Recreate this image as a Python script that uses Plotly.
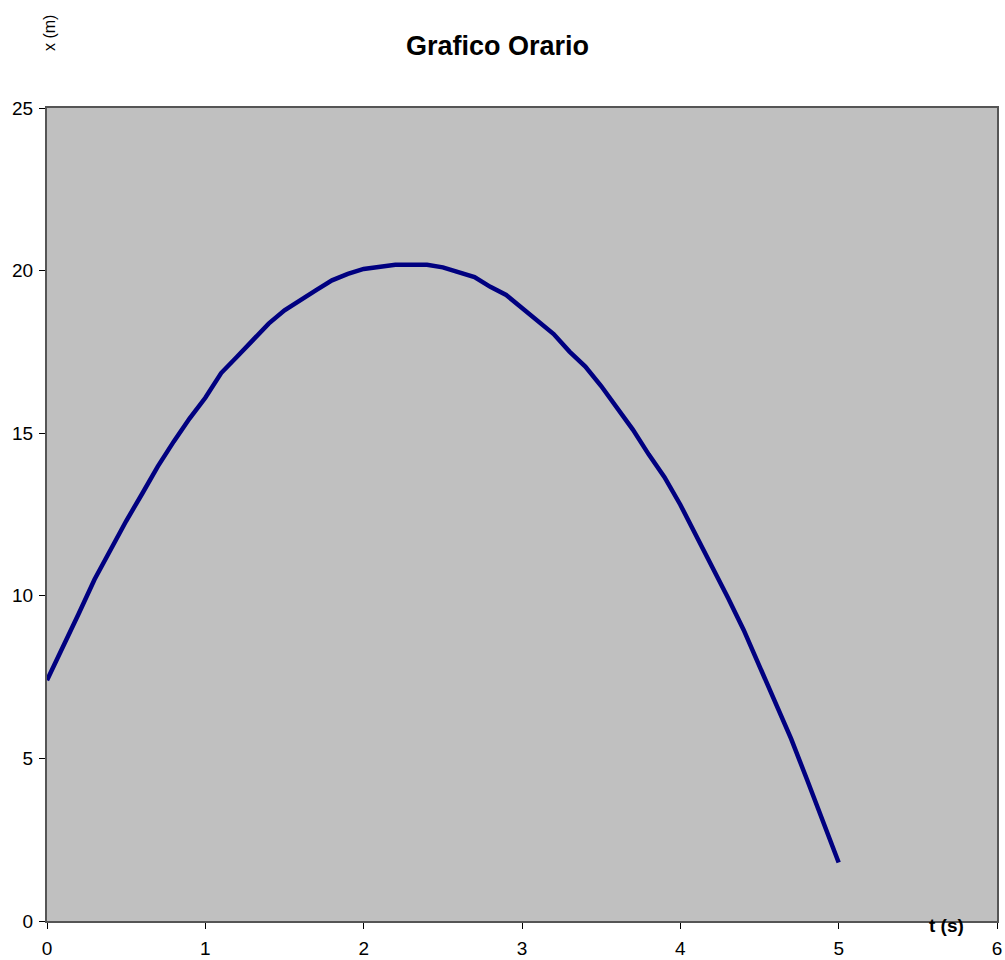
import plotly.graph_objects as go

t_values = [0.0, 0.1, 0.2, 0.3, 0.4, 0.5, 0.6, 0.7, 0.8, 0.9,
            1.0, 1.1, 1.2, 1.3, 1.4, 1.5, 1.6, 1.7, 1.8, 1.9,
            2.0, 2.1, 2.2, 2.3, 2.4, 2.5, 2.6, 2.7, 2.8, 2.9,
            3.0, 3.1, 3.2, 3.3, 3.4, 3.5, 3.6, 3.7, 3.8, 3.9,
            4.0, 4.1, 4.2, 4.3, 4.4, 4.5, 4.6, 4.7, 4.8, 4.9, 5.0]
x_values = [7.4, 8.4, 9.45, 10.5, 11.42, 12.3, 13.13, 13.98, 14.74, 15.45,
            16.09, 16.85, 17.35, 17.85, 18.37, 18.78, 19.11, 19.4, 19.7, 19.9,
            20.05, 20.12, 20.18, 20.18, 20.18, 20.1, 19.95, 19.8, 19.5, 19.25,
            18.85, 18.45, 18.05, 17.51, 17.05, 16.45, 15.8, 15.11, 14.35, 13.65,
            12.8, 11.85, 10.95, 9.95, 8.95, 7.85, 6.75, 5.6, 4.35, 3.1, 1.8]

x_ticks = [0, 1, 2, 3, 4, 5, 6]
y_ticks = [0, 5, 10, 15, 20, 25]

fig = go.Figure()
fig.add_trace(go.Scatter(x=t_values, y=x_values, mode="lines",
                         line=dict(color="#000080", width=4.5),
                         showlegend=False))

font = "Liberation Sans, Arial, sans-serif"
fig.update_layout(
    width=1005, height=960,
    margin=dict(l=47, r=8, t=108, b=39, autoexpand=False),
    paper_bgcolor="white",
    plot_bgcolor="#C0C0C0",
    font=dict(family=font, size=19, color="black"),
    xaxis=dict(range=[0, 6], tickvals=x_ticks, showgrid=False, zeroline=False,
               showline=True, linecolor="#555555", linewidth=2, mirror=True,
               ticks="outside", ticklen=6, tickcolor="black",
               ticklabelstandoff=3, ticklabeloverflow="allow",
               tickfont=dict(size=19)),
    yaxis=dict(range=[0, 25], tickvals=y_ticks, showgrid=False, zeroline=False,
               showline=True, linecolor="#555555", linewidth=2, mirror=True,
               ticks="outside", ticklen=6, tickcolor="black",
               ticklabelstandoff=2, ticklabeloverflow="allow",
               tickfont=dict(size=19)),
    annotations=[
        dict(text="<b>Grafico Orario</b>", x=(497 - 47) / 950, y=1 + (108 - 46) / 813,
             xref="paper", yref="paper", xanchor="center", yanchor="middle",
             showarrow=False, font=dict(size=27)),
        dict(text="<b>t (s)</b>", x=5.678, y=0, xref="x", yref="y",
             xanchor="center", yanchor="middle", yshift=-4,
             showarrow=False, font=dict(size=19)),
        dict(text="x (m)", x=(50 - 47) / 950, y=1 + (108 - 33) / 813,
             xref="paper", yref="paper", xanchor="center", yanchor="middle",
             textangle=-90, showarrow=False, font=dict(size=16)),
    ],
)

fig.write_html("out.html", config={"displayModeBar": False},
               post_script="document.body.style.margin='0px';document.body.style.overflow='hidden';")
